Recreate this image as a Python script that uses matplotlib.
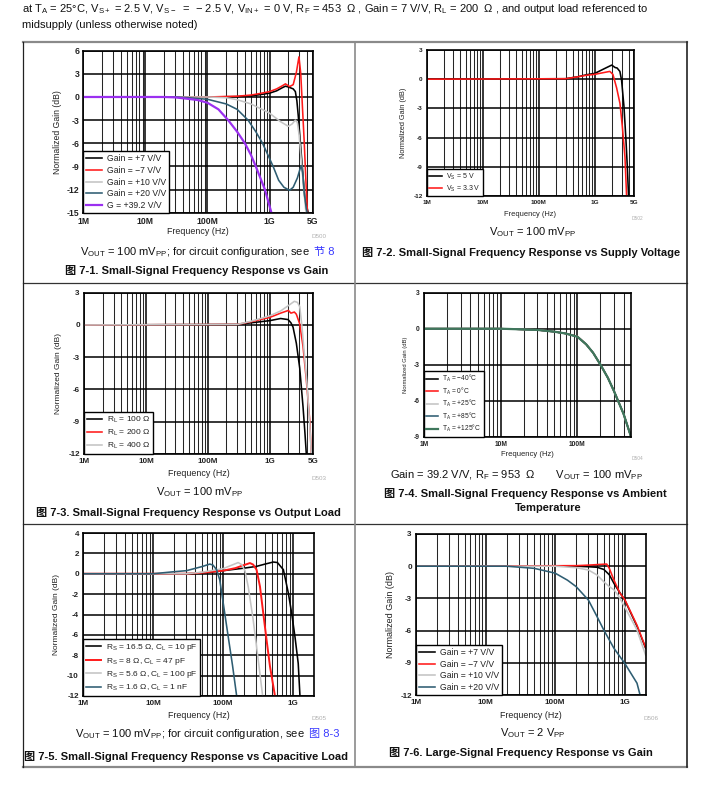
import matplotlib
matplotlib.use('Agg')
import matplotlib.pyplot as plt
import numpy as np
from matplotlib.lines import Line2D
from matplotlib.ticker import LogLocator, NullFormatter

plt.rcParams['font.family'] = ['Liberation Sans', 'Noto Sans CJK SC', 'DejaVu Sans']
plt.rcParams['axes.unicode_minus'] = False

# ---- data ----
# 7-1 small signal vs gain
f71_p7 = [1e6, 1e8, 3e8, 5e8, 7e8, 1e9, 1.3e9, 1.6e9, 1.8e9, 2.0e9, 2.4e9, 2.6e9, 2.75e9, 2.9e9, 3.1e9, 3.4e9, 3.7e9, 4.0e9, 4.3e9]
g71_p7 = [0, 0, 0.05, 0.15, 0.3, 0.5, 0.8, 1.2, 1.4, 1.3, 1.05, 0.7, -0.5, -2.5, -5.5, -9.5, -13.2, -14.3, -15.5]
f71_m7 = [1e6, 1e8, 3e8, 5e8, 7e8, 1e9, 1.3e9, 1.6e9, 1.8e9, 2.1e9, 2.4e9, 2.7e9, 2.97e9, 3.17e9, 3.38e9, 3.6e9, 3.84e9, 4.1e9]
g71_m7 = [0, 0, 0.1, 0.25, 0.45, 0.7, 1.05, 1.45, 1.7, 1.35, 1.6, 3.2, 5.2, 3.1, -1.3, -5.6, -10.8, -15.5]
f71_p10 = [1e6, 1e8, 2e8, 3e8, 5e8, 8e8, 1e9, 1.5e9, 2.0e9, 2.3e9, 2.6e9, 2.8e9, 3.0e9, 3.3e9, 3.6e9, 3.9e9]
g71_p10 = [0, 0, -0.1, -0.35, -0.9, -1.7, -2.1, -3.2, -3.8, -3.5, -3.0, -3.3, -5.0, -9.0, -12.5, -15.5]
f71_p20 = [1e6, 3e7, 5e7, 1e8, 2e8, 3e8, 4.5e8, 6e8, 7.7e8, 9.5e8, 1.14e9, 1.4e9, 1.7e9, 2.1e9, 2.4e9, 2.8e9, 3.1e9, 3.25e9, 3.4e9, 3.6e9, 3.9e9, 4.2e9]
g71_p20 = [0, 0, -0.1, -0.3, -0.9, -1.6, -3.0, -4.5, -6.0, -7.6, -9.0, -10.8, -11.7, -12.1, -11.7, -10.5, -9.3, -8.9, -9.8, -12.3, -14.5, -15.5]
f71_g39 = [1e6, 2e7, 3e7, 5e7, 7e7, 1e8, 1.5e8, 2.15e8, 3e8, 4e8, 5e8, 6e8, 8.4e8, 1.07e9, 1.2e9]
g71_g39 = [0, 0, -0.05, -0.25, -0.4, -0.75, -1.6, -3.0, -4.5, -6.0, -7.5, -9.0, -12.0, -15.0, -16.5]

# 7-2 vs supply voltage
f72_5v = [1e6, 3e8, 5e8, 7e8, 1e9, 1.5e9, 2.0e9, 2.3e9, 2.5e9, 2.8e9, 3.0e9, 3.31e9, 3.59e9, 3.8e9, 4.0e9, 4.2e9]
g72_5v = [0, 0.05, 0.25, 0.45, 0.6, 1.1, 1.45, 1.2, 1.15, 0.8, -0.1, -2.8, -6.2, -9.0, -12.0, -13.0]
f72_33v = [1e6, 3e8, 5e8, 7e8, 1e9, 1.5e9, 1.85e9, 2.1e9, 2.45e9, 2.81e9, 3.1e9, 3.45e9, 3.69e9, 3.9e9]
g72_33v = [0, 0.05, 0.25, 0.4, 0.5, 0.7, 0.8, 0.5, -0.9, -2.5, -4.9, -8.0, -12.0, -13.0]

# 7-3 vs output load
f73_100 = [1e6, 3e8, 5e8, 1e9, 1.5e9, 1.98e9, 2.2e9, 2.38e9, 2.69e9, 3.05e9, 3.45e9, 3.7e9, 3.9e9, 4.1e9]
g73_100 = [0, 0.05, 0.2, 0.4, 0.6, 0.5, 0.2, -0.2, -1.7, -4.0, -7.6, -10.0, -12.0, -13.0]
f73_200 = [1e6, 3e8, 5e8, 1e9, 1.5e9, 2.0e9, 2.2e9, 2.5e9, 2.69e9, 3.05e9, 3.45e9, 3.9e9, 4.42e9, 4.7e9, 5.0e9]
g73_200 = [0, 0.05, 0.3, 0.7, 1.1, 1.35, 1.1, 1.2, 1.0, 0.1, -2.0, -5.1, -8.8, -12.0, -13.0]
f73_400 = [1e6, 3e8, 5e8, 1e9, 1.5e9, 2.0e9, 2.5e9, 2.8e9, 3.05e9, 3.3e9, 3.6e9, 4.0e9, 4.4e9, 4.7e9, 5.0e9]
g73_400 = [0, 0.05, 0.35, 0.85, 1.3, 1.8, 2.2, 2.1, 1.7, 0.0, -2.5, -5.5, -9.0, -12.0, -13.0]

# 7-4 vs ambient temperature
f74 = [1e6, 1e7, 3e7, 5e7, 7e7, 1e8, 1.3e8, 1.6e8, 2e8, 2.5e8, 3e8, 4e8, 5e8]
g74_m40 = [0, 0, -0.1, -0.25, -0.4, -0.65, -1.3, -2.0, -3.0, -4.1, -5.2, -7.1, -9.0]
g74_0 = [0, 0, -0.1, -0.25, -0.4, -0.65, -1.3, -2.0, -3.0, -4.1, -5.2, -7.1, -9.0]
g74_25 = [0, 0, -0.1, -0.25, -0.4, -0.66, -1.3, -2.0, -3.0, -4.1, -5.2, -7.1, -9.0]
g74_85 = [0, 0, -0.1, -0.25, -0.4, -0.67, -1.3, -2.0, -3.0, -4.1, -5.2, -7.1, -9.0]
g74_125 = [0, 0, -0.1, -0.25, -0.4, -0.67, -1.3, -2.0, -3.0, -4.1, -5.2, -7.1, -9.0]

# 7-5 vs capacitive load
f75_10p = [1e6, 3e7, 5e7, 1e8, 2e8, 3e8, 4e8, 5.24e8, 6e8, 7.3e8, 8.6e8, 9.6e8, 1.07e9, 1.19e9, 1.26e9, 1.35e9]
g75_10p = [0, 0, 0.05, 0.3, 0.55, 0.72, 0.95, 1.15, 1.1, 0.4, -1.9, -3.9, -6.2, -8.8, -12.0, -13.0]
f75_47p = [1e6, 3e7, 5e7, 1e8, 1.5e8, 2e8, 2.43e8, 2.7e8, 3.02e8, 3.38e8, 3.77e8, 4.2e8, 4.7e8, 5.54e8, 6e8]
g75_47p = [0, 0, 0.1, 0.3, 0.55, 0.85, 1.05, 0.9, 0.4, -1.25, -3.9, -6.5, -9.1, -12.0, -13.0]
f75_100p = [1e6, 3e7, 5e7, 1e8, 1.4e8, 1.65e8, 1.85e8, 2.06e8, 2.3e8, 2.7e8, 3.2e8, 3.69e8, 4e8]
g75_100p = [0, 0, 0.15, 0.5, 0.9, 1.1, 0.9, 0.3, -1.3, -4.5, -8.5, -12.0, -13.0]
f75_1n = [1e6, 1e7, 2e7, 3e7, 5e7, 6.5e7, 7.2e7, 8.1e7, 9e7, 1.01e8, 1.19e8, 1.37e8, 1.57e8, 1.7e8]
g75_1n = [0, 0, 0.2, 0.3, 0.7, 0.95, 0.85, 0.4, -0.6, -2.9, -6.2, -9.0, -12.0, -13.0]

# 7-6 large signal vs gain
f76_p7 = [1e6, 2e8, 3e8, 4e8, 5e8, 6e8, 7e8, 8e8, 1e9, 1.5e9, 2e9]
g76_p7 = [0, 0, -0.05, -0.1, -0.3, -0.8, -1.6, -2.2, -3.15, -5.6, -7.65]
f76_m7 = [1e6, 2e8, 3e8, 4e8, 5.5e8, 6e8, 7e8, 8.5e8, 1e9, 1.5e9, 2e9]
g76_m7 = [0, 0.05, 0.1, 0.15, 0.2, -0.2, -1.3, -2.5, -3.1, -5.5, -7.6]
f76_p10 = [1e6, 1e8, 2e8, 3e8, 4e8, 5e8, 6e8, 7e8, 8e8, 1e9, 1.5e9, 2e9]
g76_p10 = [0, 0, -0.14, -0.35, -0.82, -1.45, -1.9, -2.2, -2.7, -3.8, -5.95, -8.3]
f76_p20 = [1e6, 2e7, 5e7, 1e8, 1.5e8, 2e8, 3e8, 4e8, 5e8, 7e8, 1e9, 1.5e9, 1.66e9, 1.8e9]
g76_p20 = [0, 0, -0.2, -0.65, -1.3, -1.9, -3.15, -4.7, -5.95, -7.65, -9.05, -10.9, -12.0, -12.5]

BLACK = 'black'
RED = '#ff1a1a'
GRAY = '#c4c4c4'
TEAL = '#2e5d72'
PURPLE = '#9b30f0'
GREEN = '#3f775c'
LINK = '#3a3aff'

W, H = 716, 798
fig = plt.figure(figsize=(W / 100, H / 100), dpi=100)


def ftext(x, y, s, **kw):
    kw.setdefault('va', 'center')
    return fig.text(x / W, 1 - y / H, s, **kw)


def make_axes(box, xmax, ymin, ymax, ystep, xticks, xlabels, tick_fs, xlab_fs, ylab_fs, ylab_x, xlab_y):
    l, t, r, b = box
    ax = fig.add_axes([l / W, 1 - b / H, (r - l) / W, (b - t) / H])
    ax.set_xscale('log')
    ax.set_xlim(1e6, xmax)
    ax.set_ylim(ymin, ymax)
    yt = np.arange(ymin, ymax + 0.01, ystep)
    ax.set_yticks(yt)
    ax.set_yticklabels(['%g' % v for v in yt])
    ax.set_xticks(xticks)
    ax.set_xticklabels(xlabels)
    ax.xaxis.set_minor_locator(LogLocator(base=10, subs=np.arange(2, 10)))
    ax.xaxis.set_minor_formatter(NullFormatter())
    ax.grid(which='major', color='black', lw=1.1)
    ax.grid(which='minor', axis='x', color='#262626', lw=0.75)
    ax.tick_params(which='both', length=0)
    ax.tick_params(axis='x', labelsize=tick_fs, colors='#222', pad=3)
    ax.tick_params(axis='y', labelsize=tick_fs, colors='#222', pad=3)
    for lab in ax.get_xticklabels() + ax.get_yticklabels():
        lab.set_fontweight('bold')
    for s in ax.spines.values():
        s.set_linewidth(1.2)
        s.set_color('black')
    ax.set_xlabel('Frequency (Hz)', fontsize=xlab_fs, color='#222')
    ax.set_ylabel('Normalized Gain (dB)', fontsize=ylab_fs, color='#222')
    ax.xaxis.set_label_coords(0.5, (b - xlab_y) / (b - t))
    ax.xaxis.label.set_va('center')
    ax.yaxis.set_label_coords((ylab_x - l) / (r - l), 0.5)
    ax.yaxis.label.set_va('center')
    ax.yaxis.label.set_ha('center')
    return ax


def legend(ax, fs, spacing=0.3):
    leg = ax.legend(loc='lower left', fontsize=fs, frameon=True, fancybox=False,
                    edgecolor='black', framealpha=1, borderaxespad=0,
                    handlelength=1.8, handletextpad=0.6, labelspacing=spacing,
                    borderpad=0.35)
    leg.get_frame().set_linewidth(1.0)
    for tx in leg.get_texts():
        tx.set_color('#222')
    return leg


def caption_with_link(x, y, s, link):
    # caption text followed by a blue cross-reference on the same baseline
    t = ftext(x, y, s, fontsize=8, color='#111', va='baseline')
    fig.canvas.draw()
    bb = t.get_window_extent()
    fig.text((bb.x1 + 4) / W, 1 - y / H, link, fontsize=8, color=LINK, va='baseline')


# header
ftext(22, 9, 'at T$_\\mathregular{A}$ = 25°C, V$_\\mathregular{S+}$ = 2.5 V, V$_\\mathregular{S-}$  =  − 2.5 V, '
      'V$_\\mathregular{IN+}$ = 0 V, R$_\\mathregular{F}$ = 453  Ω , Gain = 7 V/V, R$_\\mathregular{L}$ = 200  Ω , '
      'and output load referenced to', fontsize=8, color='#111')
ftext(22, 25, 'midsupply (unless otherwise noted)', fontsize=8, color='#111')


# table lines
def hline(y, x0, x1, color, lw):
    fig.add_artist(Line2D([x0 / W, x1 / W], [1 - y / H, 1 - y / H], color=color, lw=lw))


def vline(x, y0, y1, color, lw):
    fig.add_artist(Line2D([x / W, x / W], [1 - y0 / H, 1 - y1 / H], color=color, lw=lw))


hline(42, 22.7, 686.7, '#8a8a8a', 1.6)
hline(767, 22.7, 686.7, '#8a8a8a', 1.6)
hline(283.3, 22.7, 686.7, '#333333', 0.9)
hline(524, 22.7, 686.7, '#333333', 0.9)
vline(22.7, 42, 767, '#222222', 0.9)
vline(686.7, 42, 767, '#222222', 1.2)
vline(354.7, 42, 767, '#8a8a8a', 1.2)

LW = 1.15
big_x = [1e6, 1e7, 1e8, 1e9, 5e9]
big_l = ['1M', '10M', '100M', '1G', '5G']

# ---- 7-1 ----
ax1 = make_axes((83.3, 50.7, 313, 212.7), 5e9, -15, 6, 3, big_x, big_l, 6.2, 6.4, 6.2, 57, 232)
ax1.plot(f71_p7, g71_p7, color=BLACK, lw=LW, label='Gain = +7 V/V')
ax1.plot(f71_m7, g71_m7, color=RED, lw=LW, label='Gain = −7 V/V')
ax1.plot(f71_p10, g71_p10, color=GRAY, lw=LW, label='Gain = +10 V/V')
ax1.plot(f71_p20, g71_p20, color=TEAL, lw=LW, label='Gain = +20 V/V')
ax1.plot(f71_g39, g71_g39, color=PURPLE, lw=1.6, label='G = +39.2 V/V')
legend(ax1, 6.2)
ftext(326, 236, 'D500', ha='right', fontsize=4.5, color='#b0b0b0')
ftext(197, 271, '图 7-1. Small-Signal Frequency Response vs Gain', ha='center', fontsize=8,
      fontweight='bold', color='#111')

# ---- 7-2 ----
ax2 = make_axes((426.7, 50, 634, 196), 5e9, -12, 3, 3, big_x, big_l, 4.6, 5.4, 5.3, 403, 214)
ax2.plot(f72_5v, g72_5v, color=BLACK, lw=LW, label='V$_\\mathregular{S}$ = 5 V')
ax2.plot(f72_33v, g72_33v, color=RED, lw=LW, label='V$_\\mathregular{S}$ = 3.3 V')
legend(ax2, 5, 0.25)
ftext(643, 218, 'D502', ha='right', fontsize=3.5, color='#b0b0b0')
ftext(533, 232, 'V$_\\mathregular{OUT}$ = 100 mV$_\\mathregular{PP}$', ha='center', fontsize=8, color='#111')
ftext(521, 253, '图 7-2. Small-Signal Frequency Response vs Supply Voltage', ha='center', fontsize=8,
      fontweight='bold', color='#111')

# ---- 7-3 ----
ax3 = make_axes((84, 292.7, 313, 454), 5e9, -12, 3, 3, big_x, big_l, 5.8, 6.4, 6.0, 58, 474)
ax3.plot(f73_100, g73_100, color=BLACK, lw=LW, label='R$_\\mathregular{L}$ = 100 Ω')
ax3.plot(f73_200, g73_200, color=RED, lw=LW, label='R$_\\mathregular{L}$ = 200 Ω')
ax3.plot(f73_400, g73_400, color=GRAY, lw=LW, label='R$_\\mathregular{L}$ = 400 Ω')
legend(ax3, 6.0)
ftext(326, 479, 'D503', ha='right', fontsize=4.5, color='#b0b0b0')
ftext(200, 492, 'V$_\\mathregular{OUT}$ = 100 mV$_\\mathregular{PP}$', ha='center', fontsize=8, color='#111')
ftext(188, 513, '图 7-3. Small-Signal Frequency Response vs Output Load', ha='center', fontsize=8,
      fontweight='bold', color='#111')

# ---- 7-4 ----
ax4 = make_axes((424, 292.7, 631, 436.7), 5e8, -9, 3, 3, [1e6, 1e7, 1e8], ['1M', '10M', '100M'],
                4.8, 5.5, 4.2, 405, 455)
ax4.plot(f74, g74_m40, color=BLACK, lw=LW, label='T$_\\mathregular{A}$ = −40°C')
ax4.plot(f74, g74_0, color=RED, lw=LW, label='T$_\\mathregular{A}$ = 0°C')
ax4.plot(f74, g74_25, color=GRAY, lw=LW, label='T$_\\mathregular{A}$ = +25°C')
ax4.plot(f74, g74_85, color=TEAL, lw=LW, label='T$_\\mathregular{A}$ = +85°C')
ax4.plot(f74, g74_125, color=GREEN, lw=1.6, label='T$_\\mathregular{A}$ = +125°C')
legend(ax4, 4.8, 0.2)
ftext(643, 459, 'D504', ha='right', fontsize=3.5, color='#b0b0b0')
ftext(390, 475, 'Gain = 39.2 V/V, R$_\\mathregular{F}$ = 953  Ω       V$_\\mathregular{OUT}$ = 100 mV$_\\mathregular{PP}$',
      ha='left', fontsize=8, color='#111')
ftext(525, 493, '图 7-4. Small-Signal Frequency Response vs Ambient', ha='center', fontsize=8,
      fontweight='bold', color='#111')
ftext(548, 508, 'Temperature', ha='center', fontsize=8, fontweight='bold', color='#111')

# ---- 7-5 ----
ax5 = make_axes((83, 533, 314, 696), 2e9, -12, 4, 2, [1e6, 1e7, 1e8, 1e9], ['1M', '10M', '100M', '1G'],
                5.8, 6.4, 6.0, 57, 715)
ax5.plot(f75_10p, g75_10p, color=BLACK, lw=LW, label='R$_\\mathregular{S}$ = 16.5 Ω, C$_\\mathregular{L}$ = 10 pF')
ax5.plot(f75_47p, g75_47p, color=RED, lw=1.4, label='R$_\\mathregular{S}$ = 8 Ω, C$_\\mathregular{L}$ = 47 pF')
ax5.plot(f75_100p, g75_100p, color=GRAY, lw=LW, label='R$_\\mathregular{S}$ = 5.6 Ω, C$_\\mathregular{L}$ = 100 pF')
ax5.plot(f75_1n, g75_1n, color=TEAL, lw=LW, label='R$_\\mathregular{S}$ = 1.6 Ω, C$_\\mathregular{L}$ = 1 nF')
legend(ax5, 6.0)
ftext(326, 719, 'D505', ha='right', fontsize=4.5, color='#b0b0b0')
ftext(186, 756, '图 7-5. Small-Signal Frequency Response vs Capacitive Load', ha='center', fontsize=8,
      fontweight='bold', color='#111')

# ---- 7-6 ----
ax6 = make_axes((416, 534, 645.7, 695), 2e9, -12, 3, 3, [1e6, 1e7, 1e8, 1e9], ['1M', '10M', '100M', '1G'],
                5.8, 6.4, 6.5, 390, 715)
ax6.plot(f76_p7, g76_p7, color=BLACK, lw=LW, label='Gain = +7 V/V')
ax6.plot(f76_m7, g76_m7, color=RED, lw=LW, label='Gain = −7 V/V')
ax6.plot(f76_p10, g76_p10, color=GRAY, lw=LW, label='Gain = +10 V/V')
ax6.plot(f76_p20, g76_p20, color=TEAL, lw=LW, label='Gain = +20 V/V')
legend(ax6, 6.2)
ftext(658, 719, 'D506', ha='right', fontsize=4.5, color='#b0b0b0')
ftext(533, 733, 'V$_\\mathregular{OUT}$ = 2 V$_\\mathregular{PP}$', ha='center', fontsize=8, color='#111')
ftext(521, 753, '图 7-6. Large-Signal Frequency Response vs Gain', ha='center', fontsize=8,
      fontweight='bold', color='#111')

# captions with blue cross-references (need a draw to measure the text)
caption_with_link(80, 255, 'V$_\\mathregular{OUT}$ = 100 mV$_\\mathregular{PP}$; for circuit configuration, see', '节 8')
caption_with_link(75, 737, 'V$_\\mathregular{OUT}$ = 100 mV$_\\mathregular{PP}$; for circuit configuration, see', '图 8-3')

fig.savefig('out.png', dpi=100)
